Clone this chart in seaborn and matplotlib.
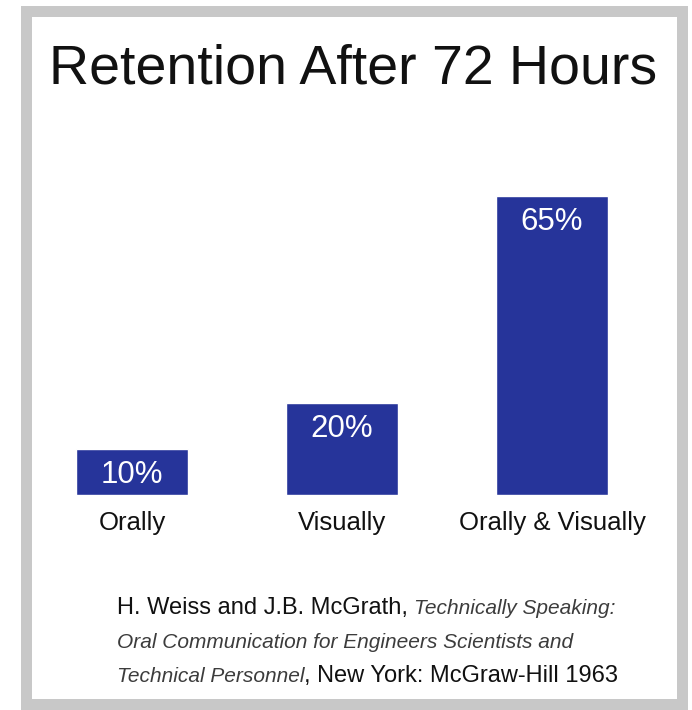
import matplotlib
matplotlib.use("Agg")
import matplotlib.pyplot as plt
import seaborn as sns
import pandas as pd
from matplotlib.patches import Rectangle

# ---- data ----
categories = ["Orally", "Visually", "Orally & Visually"]
values = [10, 20, 65]
value_labels = ["10%", "20%", "65%"]
title = "Retention After 72 Hours"
cite_line1 = [("H. Weiss and J.B. McGrath, ", "normal"), ("Technically Speaking:", "italic")]
cite_line2 = [("Oral Communication for Engineers Scientists and", "italic")]
cite_line3 = [("Technical Personnel", "italic"), (", New York: McGraw-Hill 1963", "normal")]

BAR = "#26349a"
W, H = 692, 710
DPI = 100

sns.set_theme(style="white")
plt.rcParams["font.family"] = ["Liberation Sans", "DejaVu Sans"]
REG = ["Liberation Sans", "DejaVu Sans"]

fig = plt.figure(figsize=(W / DPI, H / DPI), dpi=DPI, facecolor="white")

def fx(px):
    return px / W

def fy(py):
    return 1 - py / H

# gray frame
frame = Rectangle((fx(26), fy(704)), fx(682) - fx(26), fy(10.5) - fy(704),
                  transform=fig.transFigure, fill=False, edgecolor="#c8c8c8",
                  linewidth=11 * 72 / DPI, zorder=0)
fig.patches.append(frame)

# axes: baseline at y=495 px, 4.6 px per %
ax = fig.add_axes([fx(27), fy(495), fx(657) - fx(27), 322 / H])
df = pd.DataFrame({"cat": categories, "val": values})
sns.barplot(data=df, x="cat", y="val", color=BAR, saturation=1, width=0.53, ax=ax)
ax.set_xlim(-0.5, 2.5)
ax.set_ylim(0, 70)
for s in ax.spines.values():
    s.set_visible(False)
ax.set_yticks([])
ax.set_xlabel("")
ax.set_ylabel("")
ax.patch.set_alpha(0)
ax.tick_params(axis="x", length=0, pad=11.5)
for lbl in ax.get_xticklabels():
    lbl.set_fontfamily(REG)
    lbl.set_fontsize(18.5)
    lbl.set_color("#111111")

for i, (v, t) in enumerate(zip(values, value_labels)):
    ax.annotate(t, xy=(i, v), xytext=(0, -18.5), textcoords="offset points",
                ha="center", va="center", color="white", fontsize=22.5,
                family=REG)

# title
fig.text(fx(353.5), fy(84), title, ha="center", va="baseline",
         fontsize=40, family=REG, color="#111111")

# citation with mixed styles
fig.canvas.draw()
renderer = fig.canvas.get_renderer()

def draw_line(pieces, x0, baseline):
    x = x0
    for txt, style in pieces:
        if style == "italic":
            kw = dict(family=REG, style="italic", fontsize=15, color="#3c3c3c")
        else:
            kw = dict(family=REG, fontsize=17, color="#111111")
        stripped = txt.rstrip(" ")
        t = fig.text(fx(x), fy(baseline), stripped, ha="left", va="baseline", **kw)
        bb = t.get_window_extent(renderer)
        x = x + bb.width
        if txt.endswith(" "):
            x += 6

draw_line(cite_line1, 117, 614)
draw_line(cite_line2, 117, 648)
draw_line(cite_line3, 117, 682)

fig.savefig("out.png", dpi=DPI, facecolor="white")
